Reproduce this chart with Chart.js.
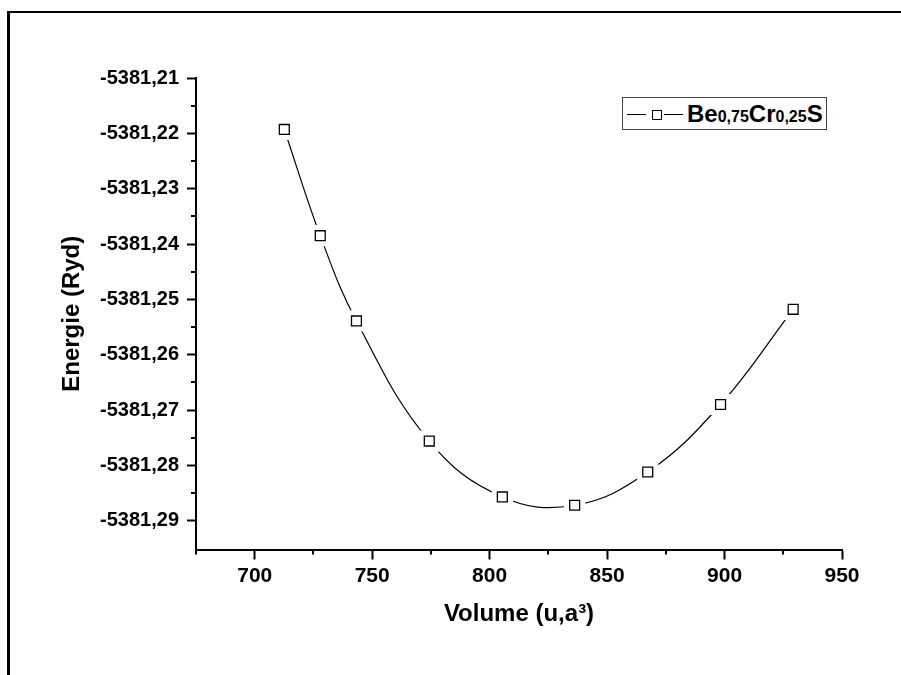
<!DOCTYPE html>
<html>
<head>
<meta charset="utf-8">
<script src="https://cdn.jsdelivr.net/npm/chart.js@4"></script>
<style>
  body { margin: 0; background: #fff; }
  #wrap { position: relative; width: 901px; height: 675px; overflow: hidden; }
  #frame {
    position: absolute; left: 7px; top: 11px; width: 900px; height: 700px;
    border-top: 2px solid #000; border-left: 3px solid #000;
  }
  #legend {
    position: absolute; left: 622px; top: 97px; width: 203px; height: 31px;
    border: 1px solid #444; background: #fff;
    font: bold 24px "Liberation Sans", Arial, sans-serif; color: #000;
    display: flex; align-items: center; white-space: nowrap;
  }
  #legend .sym { position: relative; flex: none; width: 56px; height: 31px; margin-left: 4px; margin-right: 4px; }
  #legend .sym .ln { position: absolute; top: 16px; height: 1px; width: 19px; background: #000; }
  #legend .sym .sq { position: absolute; top: 12px; left: 25px; width: 8px; height: 8px; border: 1px solid #000; background: #fff; }
  #legend sub { font-size: 16px; vertical-align: baseline; }
</style>
</head>
<body>
<div id="wrap">
  <div id="frame"></div>
  <canvas id="chart"></canvas>
  <div id="legend">
    <div class="sym"><div class="ln" style="left:0"></div><div class="sq"></div><div class="ln" style="left:37px"></div></div>
    <span>Be<sub>0,75</sub>Cr<sub>0,25</sub>S</span>
  </div>
</div>
<script>
// E(V) points
const volume = [712.6, 727.9, 743.3, 774.3, 805.4, 836.2, 867.3, 898.3, 929.2];
const energy = [-5381.2193, -5381.2385, -5381.2539, -5381.2756, -5381.2857, -5381.2872, -5381.2812, -5381.2690, -5381.2518];

// axis ticks
const xTicks = [700, 750, 800, 850, 900, 950];
const xMinorTicks = [675, 725, 775, 825, 875, 925];
const yTicks = [-5381.21, -5381.22, -5381.23, -5381.24, -5381.25, -5381.26, -5381.27, -5381.28, -5381.29];
const yMinorTicks = [-5381.215, -5381.225, -5381.235, -5381.245, -5381.255, -5381.265, -5381.275, -5381.285];

const FONT = '"Liberation Sans", Arial, sans-serif';
const points = volume.map((v, i) => ({ x: v, y: energy[i] }));

// short outward ticks between the labelled ones
const minorTicks = {
  id: "minorTicks",
  afterDraw(chart) {
    const { ctx, chartArea, scales } = chart;
    ctx.save();
    ctx.strokeStyle = "#000";
    ctx.lineWidth = 2;
    ctx.beginPath();
    xMinorTicks.forEach((v) => {
      const px = Math.round(scales.x.getPixelForValue(v));
      ctx.moveTo(px, chartArea.bottom);
      ctx.lineTo(px, chartArea.bottom + 5);
    });
    yMinorTicks.forEach((v) => {
      const py = Math.round(scales.y.getPixelForValue(v));
      ctx.moveTo(chartArea.left - 5, py);
      ctx.lineTo(chartArea.left, py);
    });
    ctx.stroke();
    ctx.restore();
  },
};

new Chart(document.getElementById("chart"), {
  type: "scatter",
  data: {
    datasets: [
      {
        // spline with white squares punched out around each point
        data: points,
        showLine: true,
        tension: 0.4,
        borderColor: "#000",
        borderWidth: 1.2,
        pointStyle: "rect",
        pointRadius: 15,
        pointBackgroundColor: "#fff",
        pointBorderColor: "#fff",
        pointBorderWidth: 0,
        order: 2,
      },
      {
        data: points,
        showLine: false,
        pointStyle: "rect",
        pointRadius: 7,
        pointBackgroundColor: "#fff",
        pointBorderColor: "#000",
        pointBorderWidth: 1.3,
        order: 1,
      },
    ],
  },
  options: {
    responsive: true,
    maintainAspectRatio: false,
    animation: false,
    events: [],
    layout: { padding: { left: 0, top: 78, right: 59, bottom: 0 } },
    plugins: { legend: { display: false }, tooltip: { enabled: false } },
    scales: {
      x: {
        type: "linear",
        min: 675,
        max: 950,
        afterFit: (scale) => { scale.height = 125.5; },
        afterBuildTicks: (scale) => { scale.ticks = xTicks.map((value) => ({ value })); },
        border: { color: "#000", width: 2 },
        grid: { drawOnChartArea: false, drawTicks: true, tickLength: 10, tickWidth: 2, tickColor: "#000" },
        ticks: { color: "#000", padding: 4, font: { family: FONT, size: 21, weight: "bold" } },
        title: {
          display: true,
          text: "Volume (u,a³)",
          color: "#000",
          padding: { top: 0, bottom: 46 },
          font: { family: FONT, size: 24, weight: "bold" },
        },
      },
      y: {
        type: "linear",
        min: -5381.2952,
        max: -5381.21,
        afterFit: (scale) => { scale.width = 196; },
        afterBuildTicks: (scale) => { scale.ticks = yTicks.map((value) => ({ value })); },
        border: { color: "#000", width: 2 },
        grid: { drawOnChartArea: false, drawTicks: true, tickLength: 9, tickWidth: 2, tickColor: "#000" },
        ticks: {
          color: "#000",
          padding: 8,
          font: { family: FONT, size: 20, weight: "bold" },
          callback: (v) => v.toFixed(2).replace(".", ","),
        },
        title: {
          display: true,
          text: "Energie (Ryd)",
          color: "#000",
          padding: { top: 58, bottom: 0 },
          font: { family: FONT, size: 24, weight: "bold" },
        },
      },
    },
  },
  plugins: [minorTicks],
});
</script>
</body>
</html>
